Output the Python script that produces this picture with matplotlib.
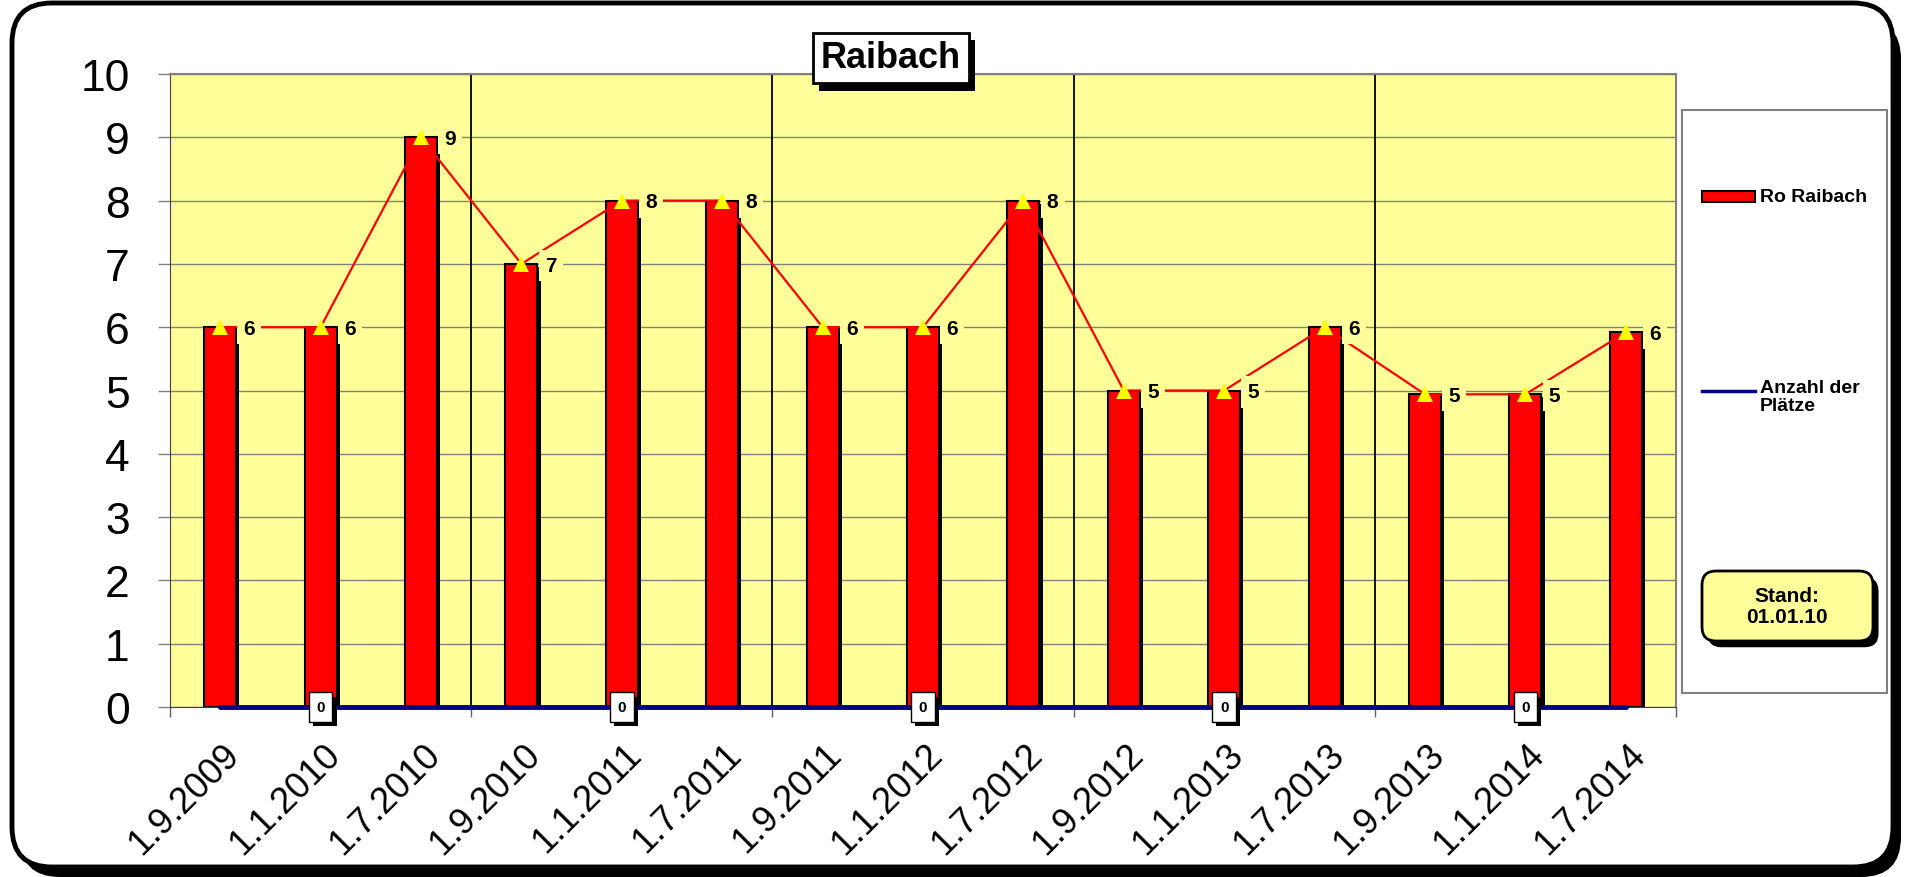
import matplotlib
matplotlib.use("Agg")
import matplotlib.pyplot as plt
from matplotlib.patches import FancyBboxPatch, Rectangle
from matplotlib.lines import Line2D
from matplotlib.transforms import IdentityTransform, ScaledTranslation
import matplotlib.patheffects as pe

plt.rcParams['font.family'] = ['Liberation Sans', 'DejaVu Sans']

# ---- data ----
categories = ["1.9.2009", "1.1.2010", "1.7.2010", "1.9.2010", "1.1.2011", "1.7.2011",
              "1.9.2011", "1.1.2012", "1.7.2012", "1.9.2012", "1.1.2013", "1.7.2013",
              "1.9.2013", "1.1.2014", "1.7.2014"]
ro_raibach = [6, 6, 9, 7, 8, 8, 6, 6, 8, 5, 5, 6, 4.94, 4.94, 5.92]
anzahl_plaetze = [0] * 15
zero_label_idx = [1, 4, 7, 10, 13]
yticks = list(range(0, 11))
title = "Raibach"
legend_labels = ["Ro Raibach", "Anzahl der\nPlätze"]
stand_text = "Stand:\n01.01.10"

W, H = 1908, 878
fig = plt.figure(figsize=(W / 100, H / 100), dpi=100)
fig.patch.set_facecolor("white")

YELLOW = "#FFFF99"
NAVY = "#000080"

# outer frame with shadow (pixel coords)
idt = IdentityTransform()
shadow = FancyBboxPatch((20, 0), 1881, 858, boxstyle="round,pad=0,rounding_size=40",
                        transform=idt, facecolor="black", edgecolor="black", lw=0, zorder=-3)
fig.add_artist(shadow)
frame = FancyBboxPatch((12, 10), 1881, 864, boxstyle="round,pad=0,rounding_size=40",
                       transform=idt, facecolor="white", edgecolor="black", lw=3.5, zorder=-2)
fig.add_artist(frame)

# axes
L, R, T, B = 170, 1676, 75, 708
ax = fig.add_axes([L / W, (H - B) / H, (R - L) / W, (B - T) / H])
ax.set_facecolor(YELLOW)
x = list(range(len(categories)))

# bars with shadow
bars = ax.bar(x, ro_raibach, width=0.32, color="red", edgecolor="black", linewidth=1.5, zorder=3)
for b in bars:
    b.set_path_effects([pe.SimplePatchShadow(offset=(2.2, -2.2), shadow_rgbFace="black", alpha=1.0),
                        pe.Normal()])

# red line with yellow triangles
ax.plot(x, ro_raibach, color="red", lw=1.6, zorder=4)
ax.plot(x, ro_raibach, linestyle="none", marker="^", color="#FFFF00", markersize=11,
        markeredgewidth=0, zorder=6)

# data labels
for xi, v in zip(x, ro_raibach):
    ax.annotate(str(int(round(v))), (xi, v), xytext=(21, -1), textcoords="offset points",
                ha="center", va="center", fontsize=15, fontweight="bold",
                bbox=dict(boxstyle="square,pad=0.3", fc=YELLOW, ec="none"), zorder=5)

# blue zero line
ax.plot(x, anzahl_plaetze, color=NAVY, lw=3.5, solid_capstyle="round", zorder=7, clip_on=False)
for i in zero_label_idx:
    t = ax.annotate("0", (x[i], anzahl_plaetze[i]), xytext=(0, 0), textcoords="offset points",
                    ha="center", va="center", fontsize=11, fontweight="bold", color="black",
                    bbox=dict(boxstyle="square,pad=0.5", fc="white", ec="black", lw=1),
                    zorder=9, annotation_clip=False)
    t.get_bbox_patch().set_path_effects([
        pe.SimplePatchShadow(offset=(3, -3), shadow_rgbFace="black", alpha=1.0), pe.Normal()])

# group separators
for gx in [2.5, 5.5, 8.5, 11.5]:
    ax.axvline(gx, color="black", lw=1.3, zorder=2)

ax.set_xlim(-0.5, len(categories) - 0.5)
ax.set_ylim(0, 10)
ax.set_yticks(yticks)
ax.set_yticklabels([str(t) for t in yticks], fontsize=32)
ax.yaxis.grid(True, color="#808080", lw=1.0, zorder=1)
ax.set_axisbelow(True)
ax.tick_params(axis="y", length=9, color="#808080", pad=20, width=1)

ax.set_xticks([-0.5, 2.5, 5.5, 8.5, 11.5, 14.5])
ax.set_xticklabels([])
ax.tick_params(axis="x", which="major", length=7, color="#606060", width=1)
ax.set_xticks(x, minor=True)
ax.set_xticklabels(categories, minor=True, rotation=45, ha="right", va="center",
                   rotation_mode="anchor", fontsize=26)
ax.tick_params(axis="x", which="minor", length=0, pad=30)
shift = ScaledTranslation(0.14, 0, fig.dpi_scale_trans)
for lab in ax.get_xticklabels(minor=True):
    lab.set_transform(lab.get_transform() + shift)

for s in ["top", "right"]:
    ax.spines[s].set_color("#808080")
    ax.spines[s].set_linewidth(1.5)
ax.spines["left"].set_color("#404040")
ax.spines["bottom"].set_color("#404040")

# title box with shadow
tt = fig.text(891, H - 59, title, fontsize=26, fontweight="bold", color="black",
              transform=idt, ha="center", va="center", zorder=11,
              bbox=dict(boxstyle="square,pad=0.22", fc="white", ec="black", lw=2))
tt.get_bbox_patch().set_path_effects([
    pe.SimplePatchShadow(offset=(4.5, -5.5), shadow_rgbFace="black", alpha=1.0), pe.Normal()])

# legend box
lg = Rectangle((1682, H - 694), 205, 583, transform=idt, facecolor="white",
               edgecolor="#808080", lw=1.5, zorder=10)
fig.add_artist(lg)
lr = Rectangle((1702, H - 203), 53, 11, transform=idt, facecolor="red",
               edgecolor="black", lw=1.5, zorder=11)
fig.add_artist(lr)
fig.text(1760, H - 198, legend_labels[0], fontsize=14, fontweight="bold", transform=idt,
         ha="left", va="center", zorder=11)
fig.add_artist(Line2D([1702, 1755], [H - 392, H - 392], transform=idt, color=NAVY, lw=2.5, zorder=11))
fig.text(1760, H - 380, legend_labels[1], fontsize=14, fontweight="bold", transform=idt,
         ha="left", va="top", linespacing=1.1, zorder=11)

# Stand box
sb = FancyBboxPatch((1702, H - 642), 171, 70, boxstyle="round,pad=0,rounding_size=14",
                    transform=idt, facecolor=YELLOW, edgecolor="black", lw=2, zorder=12)
sb.set_path_effects([pe.SimplePatchShadow(offset=(4, -4.5), shadow_rgbFace="black", alpha=1.0),
                     pe.Normal()])
fig.add_artist(sb)
fig.text(1787, H - 607, stand_text, fontsize=15, fontweight="bold", transform=idt,
         ha="center", va="center", multialignment="center", linespacing=1.15, zorder=13)

fig.savefig("out.png", dpi=100)
